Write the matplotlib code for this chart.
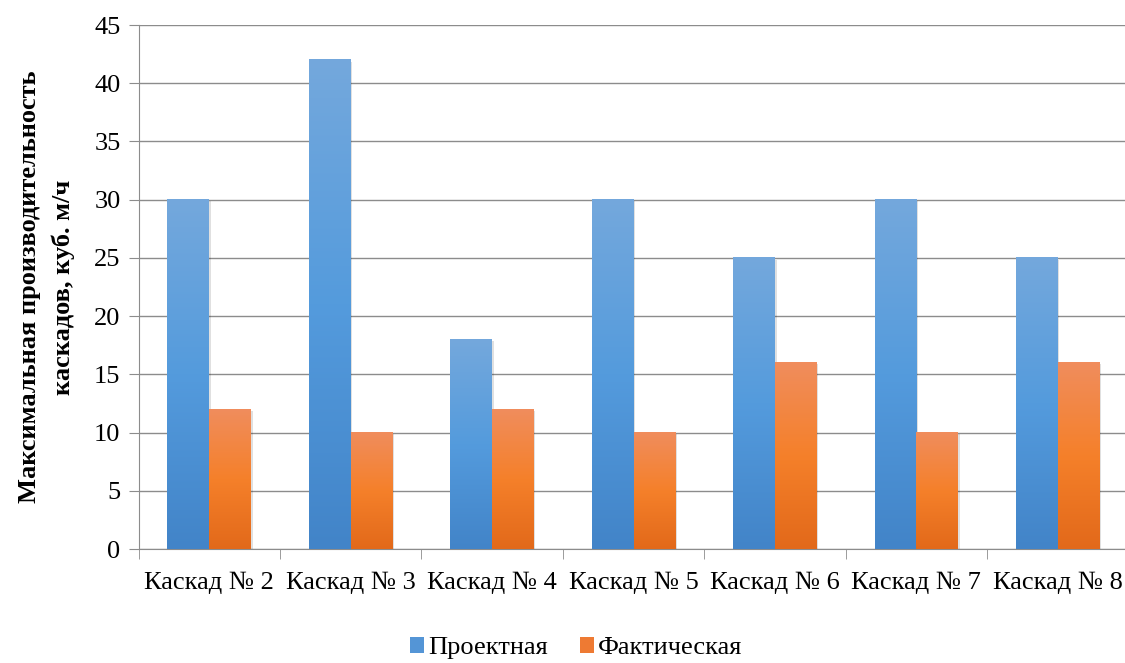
import numpy as np
import matplotlib.pyplot as plt
from matplotlib.colors import LinearSegmentedColormap
from matplotlib.patches import Patch

plt.rcParams['font.family'] = ['Liberation Serif', 'DejaVu Serif']

categories = ['Каскад № 2', 'Каскад № 3', 'Каскад № 4', 'Каскад № 5',
              'Каскад № 6', 'Каскад № 7', 'Каскад № 8']
design = [30, 42, 18, 30, 25, 30, 25]
actual = [12, 10, 12, 10, 16, 10, 16]
series_names = ['Проектная', 'Фактическая']

blue_cmap = LinearSegmentedColormap.from_list('b', ['#4284C8', '#549BDD', '#74A8DC'])
orange_cmap = LinearSegmentedColormap.from_list('o', ['#E2691A', '#F5802A', '#F08D5D'])

fig = plt.figure(figsize=(11.25, 6.63), dpi=100)
ax = fig.add_axes([138.5 / 1125, 1 - 549 / 663, 990 / 1125, 524 / 663])

x = np.arange(len(categories))
w = 0.295
grad = np.linspace(0, 1, 256).reshape(-1, 1)


def gradient_bar(x0, h, cmap):
    # soft shadow
    ax.bar(x0 + 0.012, h + 0.15, width=w, bottom=-0.3, align='edge',
           color='#000000', alpha=0.12, zorder=2, linewidth=0)
    ax.imshow(grad, cmap=cmap, origin='lower', aspect='auto',
              extent=(x0, x0 + w, 0, h), zorder=3, interpolation='bicubic')


for i in range(len(categories)):
    gradient_bar(x[i] - w, design[i], blue_cmap)
    gradient_bar(x[i], actual[i], orange_cmap)

ax.set_xlim(-0.5, len(categories) - 0.5)
ax.set_ylim(0, 45)
ax.set_yticks(range(0, 46, 5))
ax.yaxis.grid(True, color='#8C8C8C', linewidth=1.0)
ax.set_axisbelow(True)

ax.set_xticks(x)
ax.set_xticklabels(categories, fontsize=19)
ax.set_xticks(np.arange(-0.5, len(categories)), minor=True)
ax.tick_params(axis='x', which='major', length=0, pad=16)
ax.tick_params(axis='x', which='minor', length=7, color='#8C8C8C')
ax.tick_params(axis='y', length=7, color='#8C8C8C', labelsize=19, pad=6)

for s in ['top', 'right']:
    ax.spines[s].set_visible(False)
ax.spines['left'].set_color('#8C8C8C')
ax.spines['bottom'].set_color('#8C8C8C')

ax.set_ylabel('Максимальная производительность\nкаскадов, куб. м/ч',
              fontsize=19, fontweight='bold', labelpad=14, linespacing=1.55)

handles = [Patch(facecolor='#5495D6'), Patch(facecolor='#EE7A33')]
fig.legend(handles, series_names, loc='lower center', ncol=2, frameon=False,
           fontsize=19, bbox_to_anchor=(0.512, -0.03), handlelength=0.55,
           handleheight=0.55, handletextpad=0.15, columnspacing=1.2)

fig.savefig('out.png', dpi=100)
